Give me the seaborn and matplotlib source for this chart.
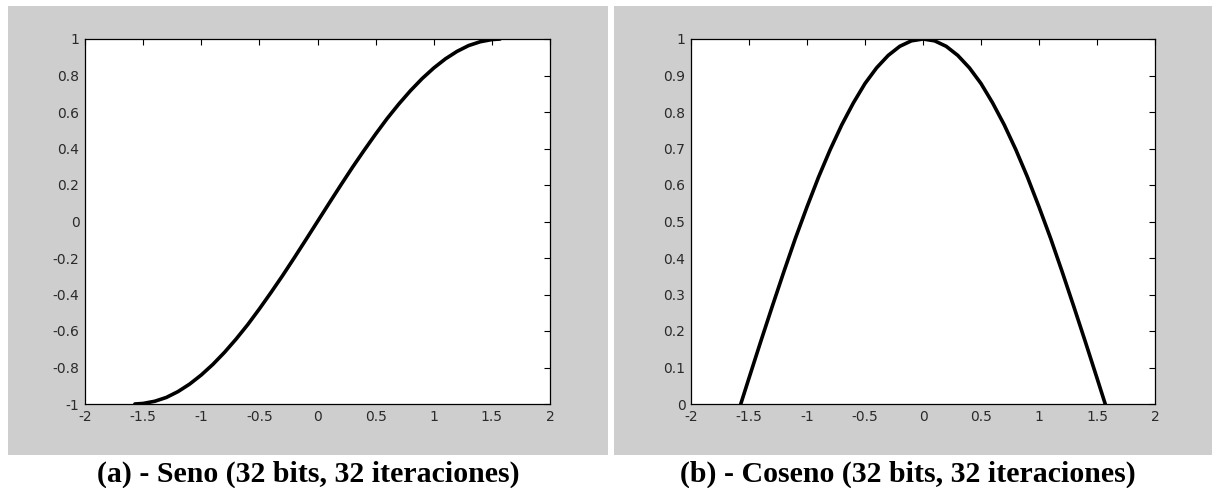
import matplotlib
matplotlib.use("Agg")
import matplotlib.pyplot as plt
from matplotlib.patches import Rectangle
import seaborn as sns
import pandas as pd

# ---- data ----
x_vals = [-1.571, -1.5, -1.4, -1.3, -1.2, -1.1, -1.0, -0.9, -0.8, -0.7, -0.6, -0.5,
          -0.4, -0.3, -0.2, -0.1, 0.0, 0.1, 0.2, 0.3, 0.4, 0.5, 0.6, 0.7, 0.8,
          0.9, 1.0, 1.1, 1.2, 1.3, 1.4, 1.5, 1.571]
seno_vals = [-1.000, -0.997, -0.985, -0.964, -0.932, -0.891, -0.841, -0.783, -0.717,
             -0.644, -0.565, -0.479, -0.389, -0.296, -0.199, -0.100, 0.000, 0.100,
             0.199, 0.296, 0.389, 0.479, 0.565, 0.644, 0.717, 0.783, 0.841, 0.891,
             0.932, 0.964, 0.985, 0.997, 1.000]
coseno_vals = [0.000, 0.071, 0.170, 0.267, 0.362, 0.454, 0.540, 0.622, 0.697, 0.765,
               0.825, 0.878, 0.921, 0.955, 0.980, 0.995, 1.000, 0.995, 0.980, 0.955,
               0.921, 0.878, 0.825, 0.765, 0.697, 0.622, 0.540, 0.454, 0.362, 0.267,
               0.170, 0.071, 0.000]
x_ticks = [-2, -1.5, -1, -0.5, 0, 0.5, 1, 1.5, 2]
x_tick_labels = ["-2", "-1.5", "-1", "-0.5", "0", "0.5", "1", "1.5", "2"]
y_ticks_a = [-1, -0.8, -0.6, -0.4, -0.2, 0, 0.2, 0.4, 0.6, 0.8, 1]
y_tick_labels_a = ["-1", "-0.8", "-0.6", "-0.4", "-0.2", "0", "0.2", "0.4", "0.6", "0.8", "1"]
y_ticks_b = [0, 0.1, 0.2, 0.3, 0.4, 0.5, 0.6, 0.7, 0.8, 0.9, 1]
y_tick_labels_b = ["0", "0.1", "0.2", "0.3", "0.4", "0.5", "0.6", "0.7", "0.8", "0.9", "1"]
captions = ["(a) - Seno (32 bits, 32 iteraciones)", "(b) - Coseno (32 bits, 32 iteraciones)"]

sns.set_style("white")
plt.rcParams["font.family"] = ["DejaVu Sans"]

W, H = 1212, 488
fig = plt.figure(figsize=(W / 100, H / 100), dpi=100)
fig.patch.set_facecolor("white")

GRAY = "#cecece"
# gray panels (pixel coords converted to figure fractions)
for (px0, px1) in [(8, 608), (614, 1212)]:
    fig.patches.append(Rectangle((px0 / W, 1 - 455 / H), (px1 - px0) / W, (455 - 6) / H,
                                 transform=fig.transFigure, facecolor=GRAY,
                                 edgecolor="none", zorder=-5))

ax_a = fig.add_axes([85 / W, 1 - 404 / H, (550 - 85) / W, (404 - 39) / H])
ax_b = fig.add_axes([691 / W, 1 - 404 / H, (1155 - 691) / W, (404 - 39) / H])
ax_a.set_zorder(2)
ax_b.set_zorder(2)

df = pd.DataFrame({"x": x_vals, "seno": seno_vals, "coseno": coseno_vals})
sns.lineplot(data=df, x="x", y="seno", ax=ax_a, color="black", lw=2.6, sort=False)
sns.lineplot(data=df, x="x", y="coseno", ax=ax_b, color="black", lw=2.6, sort=False)

for ax, yt, ytl, ylim in [(ax_a, y_ticks_a, y_tick_labels_a, (-1, 1)),
                          (ax_b, y_ticks_b, y_tick_labels_b, (0, 1))]:
    ax.set_facecolor("white")
    ax.set_xlim(-2, 2)
    ax.set_ylim(*ylim)
    ax.set_xticks(x_ticks)
    ax.set_xticklabels(x_tick_labels)
    ax.set_yticks(yt)
    ax.set_yticklabels(ytl)
    ax.set_xlabel("")
    ax.set_ylabel("")
    ax.tick_params(direction="in", length=4, width=0.8, top=True, right=True,
                   labelsize=10, labelcolor="#2a2a2a", pad=4, color="black")
    for s in ax.spines.values():
        s.set_visible(True)
        s.set_color("black")
        s.set_linewidth(0.9)

fig.text(308 / W, 1 - 474 / H, captions[0], ha="center", va="center", color="black",
         fontsize=21.5, fontweight="bold", family=["Liberation Serif", "DejaVu Serif"])
fig.text(908 / W, 1 - 474 / H, captions[1], ha="center", va="center", color="black",
         fontsize=21.5, fontweight="bold", family=["Liberation Serif", "DejaVu Serif"])

fig.savefig("out.png", dpi=100, facecolor="white")
